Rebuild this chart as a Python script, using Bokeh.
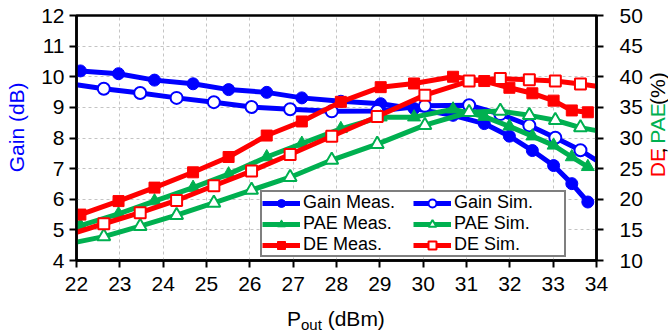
from bokeh.plotting import figure
from bokeh.layouts import row, column
from bokeh.models import (Range1d, LinearAxis, Legend, LegendItem, Label,
                          SingleIntervalTicker)
from bokeh.embed import file_html
from bokeh.resources import INLINE

# Measured sweep (output power in dBm)
pout_meas = [22.09, 22.97, 23.80, 24.69, 25.51, 26.39, 27.20, 28.10, 29.02,
             29.79, 30.69, 31.41, 31.99, 32.52, 33.01, 33.43, 33.80]
gain_meas = [10.19, 10.10, 9.89, 9.77, 9.58, 9.49, 9.31, 9.20, 9.12,
             8.96, 8.74, 8.47, 8.06, 7.59, 7.10, 6.51, 5.91]
pae_meas = [15.7, 17.6, 19.7, 21.9, 24.1, 26.9, 29.1, 31.5, 33.4,
            33.4, 34.7, 33.5, 31.9, 30.3, 28.8, 26.9, 25.3]
de_meas = [17.5, 19.7, 21.9, 24.4, 26.9, 30.4, 32.7, 35.9, 38.3,
           38.9, 40.0, 39.3, 38.2, 37.3, 36.1, 34.5, 34.2]

# Simulated sweep; the first and last points only extend the curve to the axes
pout_sim = [22.00, 22.63, 23.47, 24.31, 25.17, 26.04, 26.93, 27.89, 28.94,
            30.04, 31.06, 31.78, 32.45, 33.05, 33.63, 34.00]
gain_sim = [9.74, 9.61, 9.47, 9.31, 9.17, 9.01, 8.94, 8.87, 8.88,
            9.05, 9.07, 8.78, 8.41, 8.01, 7.60, 7.27]
pae_sim = [13.0, 13.9, 15.6, 17.4, 19.4, 21.5, 23.6, 26.4, 29.0,
           32.1, 34.2, 34.4, 33.7, 32.9, 31.7, 31.2]
de_sim = [14.6, 16.0, 17.8, 19.8, 22.2, 24.6, 27.3, 30.3, 33.5,
          37.0, 39.3, 39.7, 39.5, 39.3, 38.8, 38.45]

BLUE = "#0000FF"
GREEN = "#00B050"
RED = "#FF0000"
FONT = "Liberation Sans"
HALF_PI = 1.5707963267948966

# panel sizes (pixels): left title strip, main plot, right title strip, bottom title strip
LEFT_W, MAIN_W, RIGHT_W = 30, 615, 23
TOP_H, BOTTOM_H = 300, 32

p = figure(width=MAIN_W, height=TOP_H, x_range=Range1d(22, 34),
           y_range=Range1d(4, 12), output_backend="svg", toolbar_location=None,
           min_border_left=46, min_border_right=48, min_border_top=15,
           min_border_bottom=40)
p.extra_y_ranges = {"pct": Range1d(10, 50)}
p.background_fill_color = "white"
p.border_fill_color = "white"
p.outline_line_color = "black"
p.outline_line_width = 2.5
p.outline_line_alpha = 1.0

# grid
for g in (p.xgrid, p.ygrid):
    g.ticker = SingleIntervalTicker(interval=1)
    g.grid_line_color = "#c4c4c4"
    g.grid_line_dash = "3 3"
    g.grid_line_width = 1


def style_axis(ax):
    ax.axis_line_width = 2.5
    ax.axis_line_color = "black"
    ax.major_tick_line_width = 2
    ax.major_tick_line_color = "black"
    ax.major_tick_out = 7
    ax.major_tick_in = 0
    ax.minor_tick_line_color = None
    ax.major_label_text_font = FONT
    ax.major_label_text_font_size = "21px"
    ax.major_label_text_color = "black"


p.xaxis.ticker = SingleIntervalTicker(interval=1)
p.xaxis.major_label_standoff = 9
style_axis(p.xaxis[0])
p.yaxis.ticker = SingleIntervalTicker(interval=1)
p.yaxis.major_label_standoff = 5
style_axis(p.yaxis[0])

right = LinearAxis(y_range_name="pct", ticker=SingleIntervalTicker(interval=5))
style_axis(right)
right.major_label_standoff = 16
p.add_layout(right, "right")

LW = 5


def series(x, y, color, marker, filled, size, rng=None, marker_slice=slice(None)):
    kw = {} if rng is None else {"y_range_name": rng}
    ln = p.line(x, y, line_color=color, line_width=LW, line_join="round", **kw)
    sc = p.scatter(x[marker_slice], y[marker_slice], marker=marker, size=size,
                   fill_color=color if filled else "white", line_color=color,
                   line_width=2 if not filled else 1, **kw)
    return [ln, sc]


inner = slice(1, -1)
r_gm = series(pout_meas, gain_meas, BLUE, "circle", True, 12)
r_gs = series(pout_sim, gain_sim, BLUE, "circle", False, 12, marker_slice=inner)
r_pm = series(pout_meas, pae_meas, GREEN, "triangle", True, 13, "pct")
r_ps = series(pout_sim, pae_sim, GREEN, "triangle", False, 13, "pct", inner)
r_dm = series(pout_meas, de_meas, RED, "square", True, 11, "pct")
r_ds = series(pout_sim, de_sim, RED, "square", False, 11, "pct", inner)

legend = Legend(items=[
    LegendItem(label="Gain Meas.", renderers=r_gm),
    LegendItem(label="PAE Meas.", renderers=r_pm),
    LegendItem(label="DE Meas.", renderers=r_dm),
    LegendItem(label="Gain Sim.", renderers=r_gs),
    LegendItem(label="PAE Sim.", renderers=r_ps),
    LegendItem(label="DE Sim.", renderers=r_ds),
], location=(184, 3), orientation="vertical", nrows=3)
legend.label_text_font = FONT
legend.label_text_font_size = "18px"
legend.label_text_color = "black"
legend.glyph_width = 38
legend.glyph_height = 20
legend.label_height = 20
legend.label_width = 110
legend.label_standoff = 3
legend.spacing = 0
legend.padding = 0
legend.margin = 0
legend.border_line_color = "black"
legend.border_line_width = 2
legend.background_fill_color = "white"
legend.background_fill_alpha = 1.0
p.add_layout(legend, "center")


def strip(w, h):
    """Blank panel whose data coordinates equal pixels from its top-left corner."""
    f = figure(width=w, height=h, x_range=Range1d(0, w), y_range=Range1d(h, 0),
               x_axis_type=None, y_axis_type=None, output_backend="svg",
               toolbar_location=None, min_border=0, min_border_left=0,
               min_border_right=0, min_border_top=0, min_border_bottom=0)
    f.outline_line_color = None
    f.background_fill_color = "white"
    f.border_fill_color = "white"
    f.grid.visible = False
    return f


def lab(f, text, x, y, color="black", size="21px", angle=0.0, align="left"):
    f.add_layout(Label(x=x, y=y, text=text, text_color=color, text_font=FONT,
                       text_font_size=size, angle=angle, text_align=align,
                       text_baseline="middle"))


left_strip = strip(LEFT_W, TOP_H)
lab(left_strip, "Gain (dB)", 16, 192, BLUE, angle=HALF_PI)

right_strip = strip(RIGHT_W, TOP_H)
lab(right_strip, "DE", 12, 198, RED, angle=HALF_PI)
lab(right_strip, ",", 12, 169, "black", angle=HALF_PI)
lab(right_strip, "PAE", 12, 157, GREEN, angle=HALF_PI)
lab(right_strip, "(%)", 12, 109.5, "black", angle=HALF_PI)

bottom_strip = strip(LEFT_W + MAIN_W + RIGHT_W, BOTTOM_H)
lab(bottom_strip, "P", 286.5, 17.5)
lab(bottom_strip, "out", 300.5, 23.5, size="15px")
lab(bottom_strip, "(dBm)", 327.2, 17.5)

layout = column(row(left_strip, p, right_strip, spacing=0),
                bottom_strip, spacing=0)

open("out.html", "w").write(file_html(layout, INLINE))
